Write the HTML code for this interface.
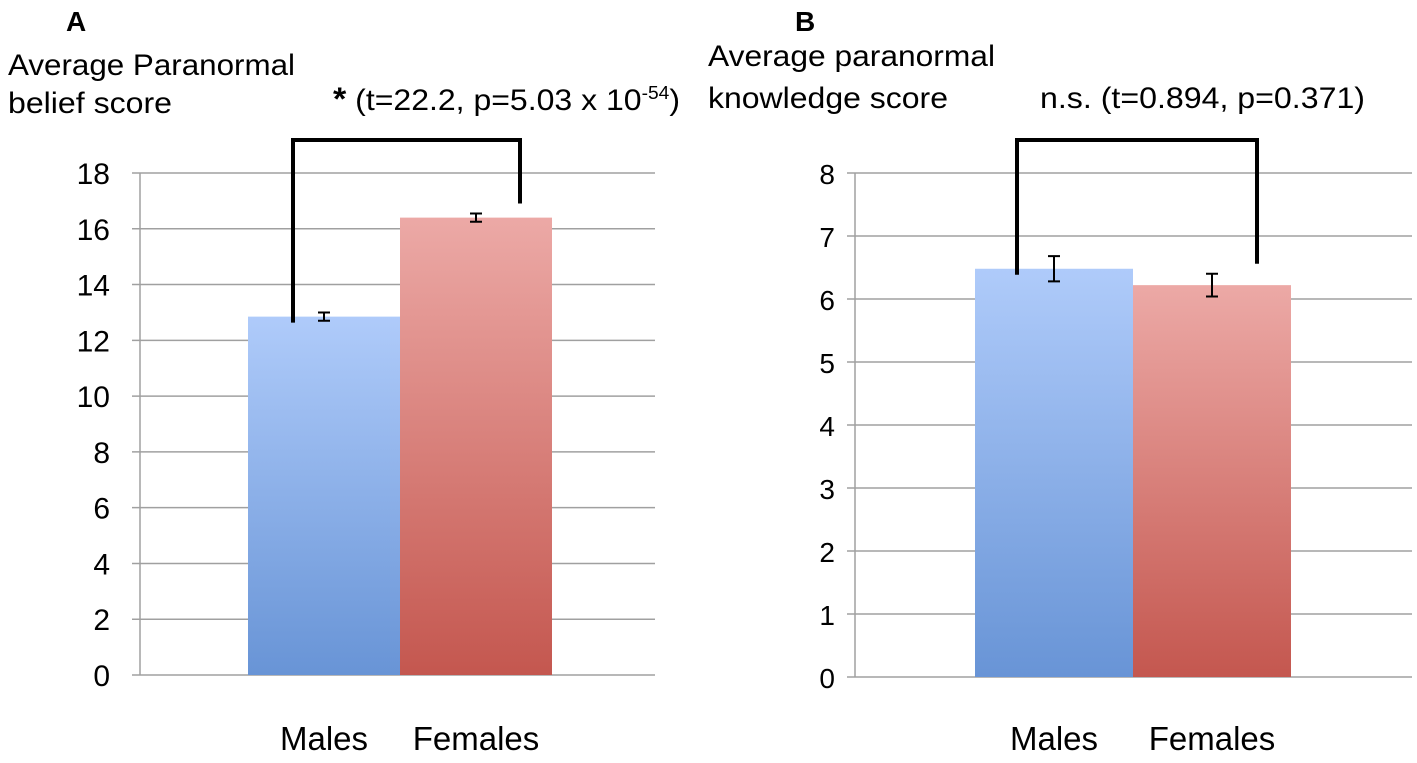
<!DOCTYPE html>
<html><head><meta charset="utf-8"><style>
body{margin:0;background:#fff;font-family:"Liberation Sans",sans-serif}
svg text{font-family:"Liberation Sans",sans-serif}
</style></head><body>
<svg id="c" width="1417" height="758" xmlns="http://www.w3.org/2000/svg">
<defs>
<linearGradient id="gb" x1="0" y1="0" x2="0" y2="1"><stop offset="0" stop-color="#afcbfa"/><stop offset="1" stop-color="#6894d6"/></linearGradient>
<linearGradient id="gr" x1="0" y1="0" x2="0" y2="1"><stop offset="0" stop-color="#eca9a6"/><stop offset="1" stop-color="#c4574f"/></linearGradient>
</defs>
<text x="66" y="31" font-size="28" font-weight="bold">A</text>
<text x="8" y="75" font-size="30" textLength="287" lengthAdjust="spacingAndGlyphs">Average Paranormal</text>
<text x="8" y="113" font-size="30" textLength="164" lengthAdjust="spacingAndGlyphs">belief score</text>
<text x="333" y="110" font-size="30" textLength="347" lengthAdjust="spacingAndGlyphs"><tspan font-weight="bold" font-size="32">*</tspan> (t=22.2, p=5.03 x 10<tspan dy="-11" font-size="18">-54</tspan><tspan dy="11">)</tspan></text>
<text x="795" y="31" font-size="28" font-weight="bold">B</text>
<text x="708" y="66" font-size="30" textLength="287" lengthAdjust="spacingAndGlyphs">Average paranormal</text>
<text x="708" y="108" font-size="30" textLength="240" lengthAdjust="spacingAndGlyphs">knowledge score</text>
<text x="1040" y="108" font-size="30" textLength="325" lengthAdjust="spacingAndGlyphs">n.s. (t=0.894, p=0.371)</text>
</svg>
<script>
const categories=["Males","Females"];
const beliefValues=[12.85,16.4];
const beliefErrors=[0.15,0.15];
const beliefTicks=[0,2,4,6,8,10,12,14,16,18];
const knowledgeValues=[6.48,6.22];
const knowledgeErrors=[0.2,0.18];
const knowledgeTicks=[0,1,2,3,4,5,6,7,8];
const NS="http://www.w3.org/2000/svg";
const svg=document.getElementById('c');
function mk(t,a){const e=document.createElementNS(NS,t);for(const k in a)e.setAttribute(k,a[k]);svg.appendChild(e);return e;}
function panel(p,cfg){
  const y=v=>cfg.y0-(v/cfg.max)*(cfg.y0-cfg.yTop);
  cfg.ticks.forEach(t=>{
    const l=mk('line',{x1:cfg.ax-8,x2:cfg.gx,y1:y(t),y2:y(t),stroke:'#a0a0a0','stroke-width':1.5});
    
    
    const tx=mk('text',{x:cfg.ax-cfg.tOff,y:y(t)+11,'font-size':cfg.tfs,'text-anchor':'end',fill:'#000'});
    tx.textContent=t;
    
    
  });
  const al=mk('line',{x1:cfg.ax,x2:cfg.ax,y1:cfg.yTop,y2:cfg.y0,stroke:'#a0a0a0','stroke-width':1.5});
  
  
  const fills=['url(#gb)','url(#gr)'];
  cfg.vals.forEach((v,i)=>{
    const x=cfg.bx+i*cfg.bw;
    const r=mk('rect',{x:x,y:y(v),width:cfg.bw,height:cfg.y0-y(v),fill:fills[i]});
    
    
    const c=x+cfg.bw/2;
    const e=cfg.errs[i];
    const g=mk('path',{d:`M${c},${y(v+e)}V${y(v-e)}M${c-6},${y(v+e)}H${c+6}M${c-6},${y(v-e)}H${c+6}`,stroke:'#000','stroke-width':2,fill:'none'});
    
    
    const lb=mk('text',{x:c,y:750,'font-size':33,'text-anchor':'middle'});
    lb.textContent=categories[i];
    
    
  });
  const b=mk('path',{d:`M${cfg.bl},${y(cfg.vals[0])+6}V140H${cfg.br}V${y(cfg.vals[1]+cfg.errs[1])-10}`,stroke:'#000','stroke-width':4,fill:'none'});
  
  
}
panel('belief',{ax:140,gx:655,y0:675,yTop:173,max:18,ticks:beliefTicks,vals:beliefValues,errs:beliefErrors,bx:248,bw:152,bl:293,br:520,tOff:30,tfs:30});
panel('knowledge',{ax:855,gx:1412,y0:677,yTop:173,max:8,ticks:knowledgeTicks,vals:knowledgeValues,errs:knowledgeErrors,bx:975,bw:158,bl:1017,br:1257,tOff:20,tfs:28});
</script>
</body></html>
